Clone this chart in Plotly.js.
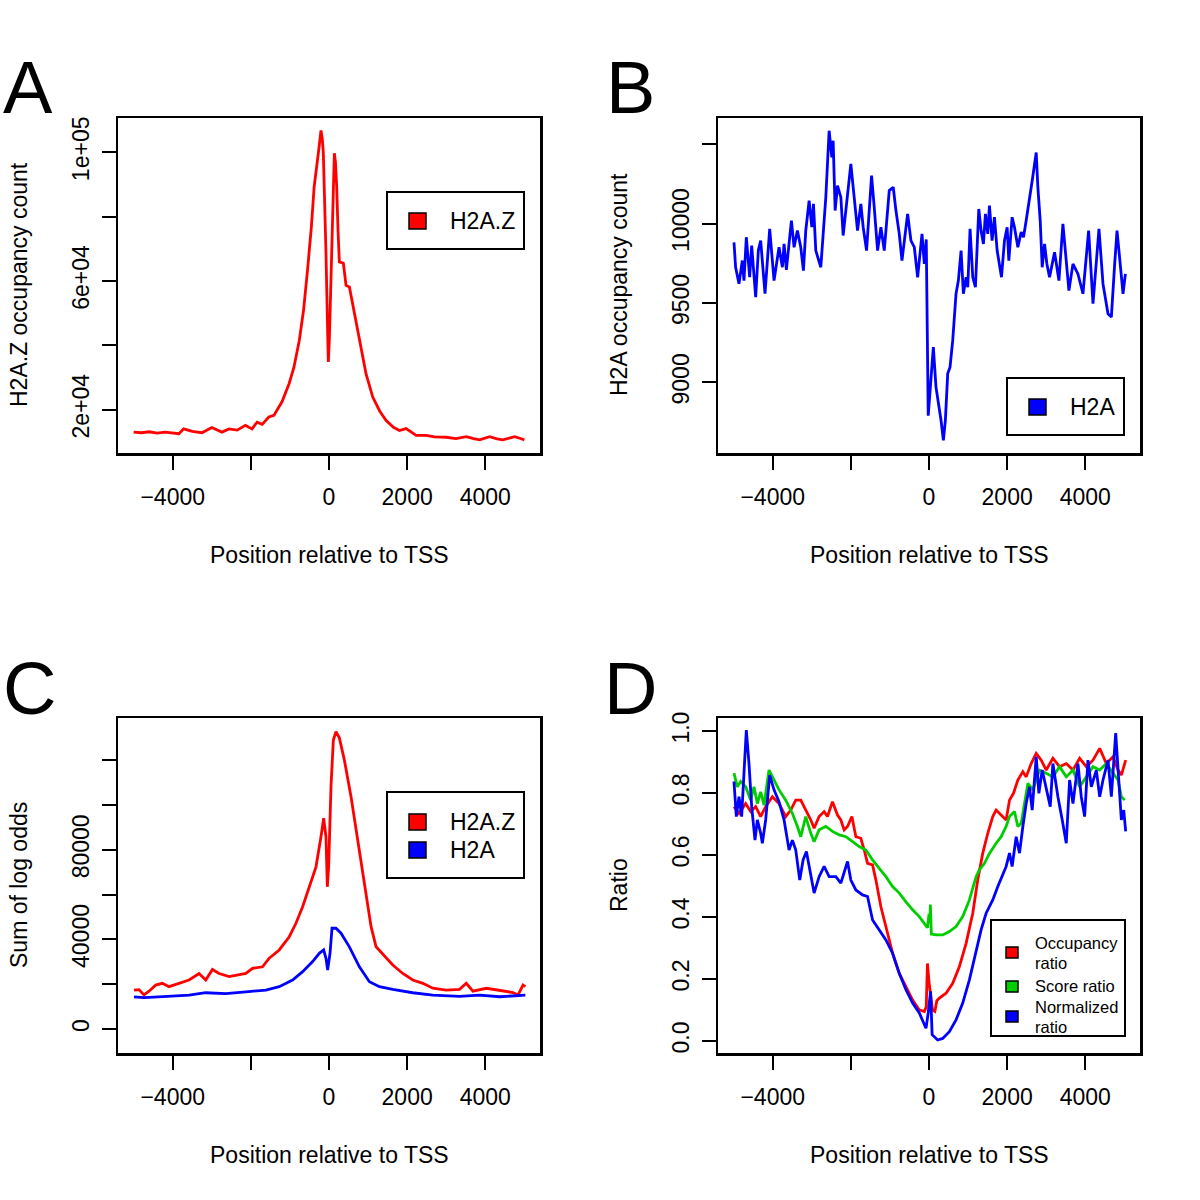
<!DOCTYPE html>
<html><head><meta charset="utf-8">
<script src="https://cdn.plot.ly/plotly-3.0.1.min.js"></script>
<style>html,body{margin:0;padding:0;background:#fff}#chart{width:1200px;height:1200px}</style>
</head><body><div id="chart"></div>
<script>
// ---------------- DATA ----------------
// Panel A: H2A.Z occupancy count
const a_h2az_x = [-5000,-4800,-4600,-4400,-4200,-4000,-3840,-3720,-3500,-3250,-3000,-2740,-2560,-2350,-2140,-1970,-1840,-1710,-1540,-1410,-1200,-1020,-900,-760,-650,-550,-450,-380,-320,-260,-205,-170,-145,-110,-77,-40,-17,10,51,90,137,165,197,230,265,368,400,436,522,600,692,821,950,1120,1300,1462,1650,1803,1974,2231,2487,2700,3000,3250,3513,3700,3855,4111,4300,4453,4600,4752,4900,5000];
const a_h2az_y = [13000,12800,13100,12700,13000,12600,12500,14000,13200,12800,14400,13000,14000,13600,15100,14000,16100,15400,17700,18200,22500,28100,33000,41500,51000,63300,77000,89200,94400,101000,106800,104000,99700,85000,68600,47000,34800,42000,63300,85000,99700,97000,89200,76000,65900,65500,62000,58600,58100,53000,47800,38400,31000,23900,19500,16600,14500,13500,14100,12000,12000,11500,11400,11000,11600,11000,10600,11600,10900,10600,11000,11600,11000,10600];

// Panel B: H2A occupancy count
const b_h2a_x = [-4991,-4949,-4863,-4778,-4735,-4675,-4590,-4538,-4436,-4368,
 -4308,-4197,-4077,-3966,-3838,-3752,-3709,-3650,-3521,-3453,
 -3368,-3282,-3214,-3154,-3068,-2999,-2957,-2897,-2769,-2709,
 -2641,-2556,-2487,-2453,-2402,-2342,-2256,-2197,-2111,-2000,
 -1915,-1829,-1744,-1684,-1598,-1470,-1402,-1316,-1231,-1145,
 -1017,-915,-846,-761,-692,-547,-462,-376,-291,-179,
 -120,-70,-20,51,111,179,248,308,368,419,
 479,538,607,692,752,821,880,949,992,1051,
 1120,1188,1274,1333,1393,1444,1504,1547,1615,1675,
 1744,1855,1932,2000,2043,2128,2188,2274,2359,2419,
 2487,2556,2641,2744,2786,2846,2897,2957,3017,3085,
 3214,3325,3427,3581,3684,3812,3940,4085,4197,4350,
 4453,4581,4667,4752,4812,4966,5026];
const b_h2a_y = [9882,9725,9621,9767,9641,9914,9662,9862,9536,9830,
 9893,9558,9967,9641,9851,9725,9872,9709,10019,9851,
 9956,9851,9704,9956,10145,9977,10124,9830,9725,9935,
 10166,10585,10417,10522,10082,10239,10166,9925,10124,10376,
 10166,9956,10124,9977,9830,10302,10103,9830,9977,9830,
 10208,10229,10082,9935,9767,10061,9893,9851,9662,9935,
 9746,9900,8790,9055,9222,8970,8866,8761,8635,8761,
 9055,9096,9264,9558,9641,9830,9558,9662,9599,9967,
 9662,9599,10092,9956,9872,10061,9935,10113,9893,10040,
 9830,9662,9893,9977,9767,10040,9977,9851,9946,9914,
 10019,10145,10270,10448,10229,10019,9725,9872,9746,9662,
 9820,9641,9998,9578,9746,9683,9558,9956,9495,9967,
 9620,9432,9411,9746,9956,9558,9683];

// Panel C: Sum of log odds
const c_h2az_x = [-4991,-4863,-4735,-4607,-4436,-4265,-4094,-3838,-3581,-3325,
 -3154,-2983,-2812,-2556,-2299,-2128,-1957,-1701,-1530,-1274,
 -1017,-846,-675,-504,-333,-205,-137,-77,-43,-9,
 51,111,179,265,393,564,735,906,1077,1205,
 1376,1632,1889,2145,2402,2658,3000,3342,3513,3684,
 4026,4368,4709,4838,4966,5026];
const c_h2az_y = [17400,17600,15200,16900,19600,20400,18900,20400,21900,24800,
 21900,26600,24800,23400,24100,24800,27100,27800,31600,35300,
 41200,47200,54600,63500,72400,85800,94100,85800,63500,72400,
 108200,129000,132700,130000,120100,103700,84400,65000,45700,36700,
 33300,28600,24800,21900,20400,18200,17400,17700,20400,16900,
 18200,17200,16300,15200,19600,18900];
const c_h2a_x = [-4991,-4735,-4479,-4094,-3581,-3154,-2641,-2128,-1615,-1274,
 -932,-675,-419,-248,-137,-77,-35,26,77,179,
 308,521,778,1034,1291,1632,2145,2658,3342,3855,
 4368,5026];
const c_h2a_y = [14400,14000,14200,14600,15100,16200,15800,16600,17400,18900,
 21900,25600,30100,33800,35300,31600,26300,33800,45000,45000,
 42800,36700,27800,21100,18900,17700,16200,15100,14600,15100,
 14400,15100];

// Panel D: Ratio
const d_occ_x = [-4991,-4863,-4692,-4564,-4436,-4308,-4180,-4009,-3838,-3667,
 -3538,-3410,-3282,-3154,-3025,-2940,-2812,-2684,-2598,-2470,
 -2342,-2256,-2171,-2085,-1974,-1872,-1744,-1658,-1573,-1444,
 -1359,-1231,-1103,-932,-761,-590,-419,-248,-120,-70,
 -40,0,90,150,200,265,436,607,778,949,
 1120,1248,1376,1504,1632,1718,1846,1974,2060,2162,
 2274,2402,2487,2615,2744,2872,3000,3171,3342,3513,
 3684,3855,4026,4197,4368,4538,4709,4838,4923,5034];
const d_occ_y = [0.756,0.734,0.766,0.740,0.756,0.724,0.756,0.788,0.766,0.724,
 0.745,0.777,0.777,0.745,0.713,0.686,0.724,0.740,0.724,0.772,
 0.729,0.713,0.681,0.692,0.724,0.659,0.654,0.616,0.573,0.568,
 0.519,0.433,0.369,0.283,0.218,0.175,0.132,0.100,0.095,0.110,
 0.250,0.190,0.100,0.095,0.130,0.138,0.154,0.186,0.240,0.315,
 0.412,0.520,0.606,0.670,0.724,0.745,0.729,0.713,0.777,0.799,
 0.842,0.869,0.852,0.895,0.928,0.906,0.874,0.912,0.885,0.895,
 0.874,0.912,0.885,0.906,0.944,0.895,0.917,0.874,0.858,0.906];
const d_score_x = [-4991,-4906,-4820,-4692,-4564,-4479,-4393,-4308,-4222,-4094,
 -3966,-3838,-3667,-3496,-3368,-3282,-3154,-3025,-2940,-2812,
 -2641,-2470,-2299,-2128,-1957,-1786,-1615,-1444,-1274,-1103,
 -932,-761,-590,-419,-248,-120,-40,0,20,35,
 60,179,350,521,692,863,1034,1205,1291,1419,
 1547,1718,1846,1974,2060,2188,2274,2359,2445,2530,
 2658,2829,3000,3171,3342,3513,3684,3855,4026,4197,
 4368,4538,4709,4838,4923,5009];
const d_score_y = [0.864,0.820,0.837,0.820,0.777,0.820,0.766,0.804,0.761,0.874,
 0.842,0.810,0.777,0.734,0.692,0.659,0.724,0.670,0.643,0.681,
 0.692,0.676,0.665,0.659,0.643,0.627,0.616,0.584,0.557,0.530,
 0.498,0.477,0.449,0.423,0.401,0.378,0.365,0.410,0.380,0.440,
 0.345,0.342,0.342,0.353,0.369,0.401,0.455,0.530,0.552,0.573,
 0.605,0.638,0.659,0.692,0.724,0.740,0.692,0.702,0.766,0.831,
 0.810,0.874,0.864,0.852,0.885,0.852,0.874,0.820,0.852,0.885,
 0.874,0.895,0.864,0.842,0.788,0.777];
const d_norm_x = [-4991,-4931,-4863,-4795,-4735,-4675,-4607,-4538,-4453,-4393,
 -4308,-4265,-4180,-4077,-3966,-3838,-3709,-3581,-3496,-3410,
 -3308,-3222,-3137,-3051,-2940,-2812,-2684,-2556,-2385,-2256,
 -2085,-2000,-1872,-1701,-1573,-1444,-1274,-1103,-932,-761,
 -590,-419,-248,-77,-20,10,40,80,137,222,
 350,521,692,863,1034,1205,1333,1462,1632,1761,
 1889,1974,2060,2128,2231,2316,2402,2487,2572,2641,
 2744,2812,2897,3000,3103,3171,3299,3410,3513,3598,
 3684,3812,3897,3983,4068,4154,4282,4368,4453,4581,
 4667,4778,4863,4923,4983,5034];
const d_norm_y = [0.837,0.724,0.788,0.724,0.864,1.003,0.895,0.756,0.648,0.713,
 0.670,0.638,0.713,0.858,0.810,0.772,0.713,0.616,0.648,0.616,
 0.519,0.584,0.611,0.552,0.477,0.530,0.563,0.530,0.530,0.509,
 0.579,0.519,0.487,0.471,0.466,0.390,0.358,0.326,0.283,0.218,
 0.165,0.122,0.090,0.041,0.090,0.120,0.160,0.020,0.014,0.003,
 0.008,0.030,0.068,0.122,0.197,0.294,0.358,0.412,0.455,0.498,
 0.541,0.563,0.606,0.563,0.659,0.606,0.692,0.766,0.820,0.745,
 0.917,0.799,0.874,0.820,0.756,0.895,0.788,0.713,0.638,0.842,
 0.766,0.895,0.788,0.724,0.906,0.820,0.874,0.788,0.842,0.906,
 0.788,0.993,0.820,0.713,0.745,0.676];

// Tick values / labels
const x_tick_vals = [-4000,-2000,0,2000,4000];
const x_tick_text = ["\u22124000","","0","2000","4000"];
const a_tick_vals = [20000,40000,60000,80000,100000];
const a_tick_text = ["2e+04","","6e+04","","1e+05"];
const b_tick_vals = [9000,9500,10000,10500];
const b_tick_text = ["9000","9500","10000",""];
const c_tick_vals = [0,20000,40000,60000,80000,100000,120000];
const c_tick_text = ["0","","40000","","80000","",""];
const d_tick_vals = [0,0.2,0.4,0.6,0.8,1.0];
const d_tick_text = ["0.0","0.2","0.4","0.6","0.8","1.0"];

// ---------------- LAYOUT ----------------
const FONT = '"Liberation Sans", Arial, Helvetica, sans-serif';
const W = 1200, H = 1200;
const px = v => v / W;
const py = v => 1 - v / H;
const RED = '#FF0000', BLUE = '#0000FF', GREEN = '#00CD00';

function xax(l, r, anchor) {
  return {domain: [px(l), px(r)], anchor: anchor, range: [-5400, 5400],
    tickmode: 'array', tickvals: x_tick_vals, ticktext: x_tick_text,
    ticks: 'outside', ticklen: 14, tickwidth: 2, tickcolor: '#000',
    showline: true, mirror: true, linecolor: '#000', linewidth: 2.5,
    showgrid: false, zeroline: false, ticklabelstandoff: 8,
    tickfont: {family: FONT, size: 23, color: '#000'}, fixedrange: true};
}
function yax(t, b, anchor, range, vals, text) {
  return {domain: [py(b), py(t)], anchor: anchor, range: range,
    tickmode: 'array', tickvals: vals, ticktext: text, tickangle: -90,
    ticks: 'outside', ticklen: 14, tickwidth: 2, tickcolor: '#000',
    showline: true, mirror: true, linecolor: '#000', linewidth: 2.5,
    showgrid: false, zeroline: false, ticklabelstandoff: 3,
    tickfont: {family: FONT, size: 23, color: '#000'}, fixedrange: true};
}

function line(x, y, xa, ya, color) {
  return {x: x, y: y, xaxis: xa, yaxis: ya, type: 'scatter', mode: 'lines',
    line: {color: color, width: 2.8}, showlegend: false, hoverinfo: 'skip'};
}

const traces = [
  line(a_h2az_x, a_h2az_y, 'x', 'y', RED),
  line(b_h2a_x, b_h2a_y, 'x2', 'y2', BLUE),
  line(c_h2az_x, c_h2az_y, 'x3', 'y3', RED),
  line(c_h2a_x, c_h2a_y, 'x3', 'y3', BLUE),
  line(d_occ_x, d_occ_y, 'x4', 'y4', RED),
  line(d_score_x, d_score_y, 'x4', 'y4', GREEN),
  line(d_norm_x, d_norm_y, 'x4', 'y4', BLUE)
];

const annotations = [];
const shapes = [];
function txt(text, x, y, size, opts) {
  annotations.push(Object.assign({text: text, x: px(x), y: py(y), xref: 'paper', yref: 'paper',
    showarrow: false, font: {family: FONT, size: size, color: '#000'},
    xanchor: 'center', yanchor: 'middle'}, opts || {}));
}
function rect(x0, y0, x1, y1, fill, lw) {
  shapes.push({type: 'rect', xref: 'paper', yref: 'paper', x0: px(x0), x1: px(x1), y0: py(y1), y1: py(y0),
    fillcolor: fill, line: {color: '#000', width: lw}});
}

// panel letters
txt('A', 28, 87, 74);
txt('B', 630, 87, 74);
txt('C', 29, 688, 74);
txt('D', 630, 688, 74);

// axis titles
txt('Position relative to TSS', 329, 555, 23);
txt('Position relative to TSS', 929, 555, 23);
txt('Position relative to TSS', 329, 1155, 23);
txt('Position relative to TSS', 929, 1155, 23);
txt('H2A.Z occupancy count', 19, 285, 23, {textangle: -90});
txt('H2A occupancy count', 619, 285, 23, {textangle: -90});
txt('Sum of log odds', 19, 885, 23, {textangle: -90});
txt('Ratio', 619, 885, 23, {textangle: -90});

// legends
rect(387, 192, 524, 249, 'rgba(0,0,0,0)', 2);
rect(409, 213, 426, 229, RED, 1.5);
txt('H2A.Z', 448, 221, 23, {xanchor: 'left'});

rect(1007, 378, 1124, 435, 'rgba(0,0,0,0)', 2);
rect(1029, 399, 1046, 415, BLUE, 1.5);
txt('H2A', 1068, 407, 23, {xanchor: 'left'});

rect(387, 792, 524, 878, 'rgba(0,0,0,0)', 2);
rect(409, 814, 426, 830, RED, 1.5);
rect(409, 842, 426, 858, BLUE, 1.5);
txt('H2A.Z', 448, 822, 23, {xanchor: 'left'});
txt('H2A', 448, 850, 23, {xanchor: 'left'});

rect(991, 920, 1125, 1036, 'rgba(0,0,0,0)', 2);
rect(1006, 947, 1018, 958, RED, 1.5);
rect(1006, 981, 1018, 992, GREEN, 1.5);
rect(1006, 1011, 1018, 1022, BLUE, 1.5);
txt('Occupancy', 1033, 943, 16.5, {xanchor: 'left'});
txt('ratio', 1033, 963, 16.5, {xanchor: 'left'});
txt('Score ratio', 1033, 986, 16.5, {xanchor: 'left'});
txt('Normalized', 1033, 1007, 16.5, {xanchor: 'left'});
txt('ratio', 1033, 1027, 16.5, {xanchor: 'left'});

const layout = {
  width: W, height: H, margin: {l: 0, r: 0, t: 0, b: 0},
  paper_bgcolor: '#fff', plot_bgcolor: '#fff', showlegend: false,
  font: {family: FONT, color: '#000'},
  xaxis: xax(118, 540, 'y'),
  yaxis: yax(118, 453, 'x', [6500, 110650], a_tick_vals, a_tick_text),
  xaxis2: xax(718, 1140, 'y2'),
  yaxis2: yax(118, 453, 'x2', [8555, 10665], b_tick_vals, b_tick_text),
  xaxis3: xax(118, 540, 'y3'),
  yaxis3: yax(718, 1053, 'x3', [-10700, 138850], c_tick_vals, c_tick_text),
  xaxis4: xax(718, 1140, 'y4'),
  yaxis4: yax(718, 1053, 'x4', [-0.039, 1.042], d_tick_vals, d_tick_text),
  annotations: annotations, shapes: shapes
};

Plotly.newPlot('chart', traces, layout, {staticPlot: true, displayModeBar: false});
</script></body></html>
